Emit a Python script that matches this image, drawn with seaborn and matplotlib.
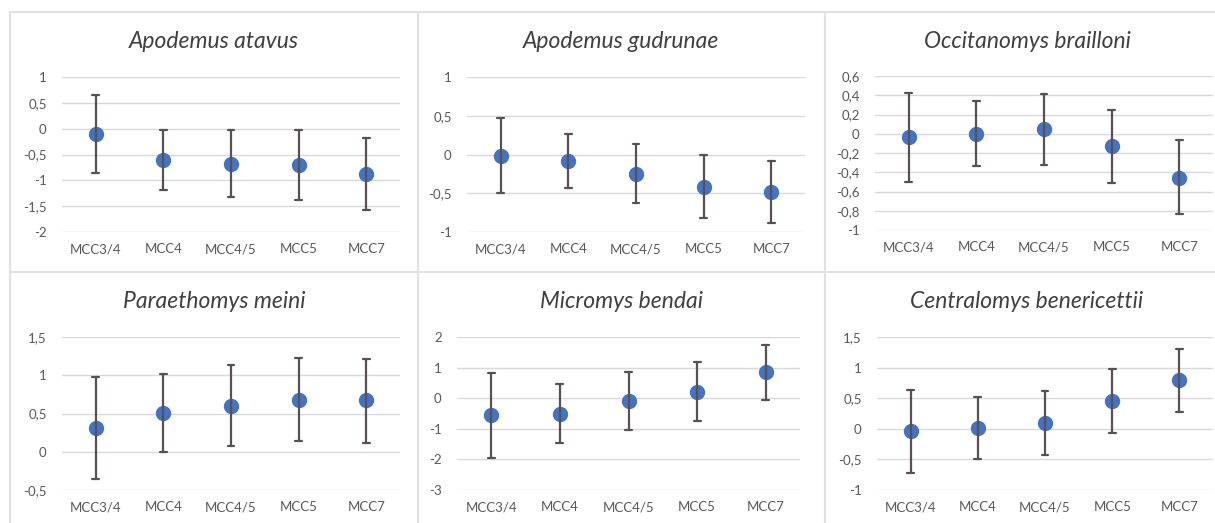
import numpy as np
import pandas as pd
import matplotlib
matplotlib.use("Agg")
import matplotlib.pyplot as plt
from matplotlib.lines import Line2D
import seaborn as sns

categories = ["MCC3/4", "MCC4", "MCC4/5", "MCC5", "MCC7"]

titles = ["Apodemus atavus", "Apodemus gudrunae", "Occitanomys brailloni",
          "Paraethomys meini", "Micromys bendai", "Centralomys benericettii"]

atavus_mean = [-0.10, -0.60, -0.68, -0.70, -0.88]
atavus_low = [-0.85, -1.18, -1.33, -1.38, -1.58]
atavus_high = [0.65, -0.02, -0.02, -0.02, -0.18]

gudrunae_mean = [-0.02, -0.08, -0.25, -0.42, -0.48]
gudrunae_low = [-0.50, -0.43, -0.63, -0.82, -0.88]
gudrunae_high = [0.47, 0.27, 0.14, -0.01, -0.08]

brailloni_mean = [-0.03, 0.00, 0.05, -0.13, -0.46]
brailloni_low = [-0.50, -0.34, -0.32, -0.51, -0.83]
brailloni_high = [0.42, 0.34, 0.41, 0.25, -0.07]

meini_mean = [0.31, 0.51, 0.60, 0.68, 0.67]
meini_low = [-0.36, 0.00, 0.07, 0.14, 0.12]
meini_high = [0.98, 1.01, 1.13, 1.22, 1.21]

bendai_mean = [-0.55, -0.51, -0.09, 0.21, 0.84]
bendai_low = [-1.97, -1.45, -1.05, -0.76, -0.07]
bendai_high = [0.83, 0.45, 0.87, 1.17, 1.73]

benericettii_mean = [-0.04, 0.01, 0.09, 0.46, 0.80]
benericettii_low = [-0.73, -0.49, -0.43, -0.07, 0.28]
benericettii_high = [0.64, 0.52, 0.62, 0.98, 1.30]

y_ticks = [
    [-2, -1.5, -1, -0.5, 0, 0.5, 1],
    [-1, -0.5, 0, 0.5, 1],
    [-1, -0.8, -0.6, -0.4, -0.2, 0, 0.2, 0.4, 0.6],
    [-0.5, 0, 0.5, 1, 1.5],
    [-3, -2, -1, 0, 1, 2],
    [-1, -0.5, 0, 0.5, 1, 1.5],
]

series = [
    (atavus_mean, atavus_low, atavus_high),
    (gudrunae_mean, gudrunae_low, gudrunae_high),
    (brailloni_mean, brailloni_low, brailloni_high),
    (meini_mean, meini_low, meini_high),
    (bendai_mean, bendai_low, bendai_high),
    (benericettii_mean, benericettii_low, benericettii_high),
]

sns.set_theme(style="white")
plt.rcParams["font.family"] = ["Lato", "DejaVu Sans"]

W, H = 1215, 523
fig = plt.figure(figsize=(W / 100, H / 100), dpi=100)
fig.patch.set_facecolor("white")

# axes boxes in pixels: (left, right, top, bottom)
boxes = [
    (62, 400, 77, 232),
    (467, 805, 77, 232),
    (875, 1213, 76, 230),
    (62, 400, 337, 490),
    (457, 800, 337, 490),
    (877, 1213, 337, 490),
]
title_pos = [(214, 42), (621, 42), (1027, 42), (214, 302), (621, 302), (1027, 302)]

blue = "#4472C4"
err_col = "#5b5050"
grid_col = "#d9d9d9"
text_col = "#595959"


def fmt(v):
    s = ("%g" % v).replace(".", ",")
    return s


for i, (box, (mean, low, high)) in enumerate(zip(boxes, series)):
    l, r, t, b = box
    ax = fig.add_axes([l / W, 1 - b / H, (r - l) / W, (b - t) / H])
    rows = []
    for c, m, lo, hi in zip(categories, mean, low, high):
        for v in (lo, m, hi):
            rows.append({"cat": c, "val": v})
    df = pd.DataFrame(rows)
    ticks = y_ticks[i]
    for tv in ticks:
        ax.axhline(tv, color=grid_col, lw=1.0, zorder=0)
    sns.pointplot(data=df, x="cat", y="val", order=categories, ax=ax,
                  estimator="median", errorbar=("pi", 100),
                  linestyle="none", color=blue, markersize=9,
                  capsize=0.1, err_kws={"color": err_col, "linewidth": 1.6},
                  zorder=3)
    ax.set_xlim(-0.5, 4.5)
    ax.set_ylim(ticks[0], ticks[-1])
    ax.set_yticks(ticks)
    ax.set_yticklabels([fmt(v) for v in ticks])
    ax.set_xlabel("")
    ax.set_ylabel("")
    for s in ax.spines.values():
        s.set_visible(False)
    ax.tick_params(axis="both", length=0, labelsize=9.5, colors=text_col)
    ax.tick_params(axis="y", pad=11)
    ax.tick_params(axis="x", pad=8)
    ax.set_facecolor("none")
    tx, ty = title_pos[i]
    fig.text(tx / W, 1 - ty / H, titles[i], ha="center", va="center",
             fontsize=16.5, style="italic", color="#404040")

# panel separators
frame_col = "#e3e0de"
for y in (12, 272):
    fig.add_artist(Line2D([10 / W, 1], [1 - y / H, 1 - y / H], color=frame_col, lw=1.5))
for x in (10, 418, 825):
    fig.add_artist(Line2D([x / W, x / W], [1 - 12 / H, 0], color=frame_col, lw=1.5))

fig.savefig("out.png", dpi=100, facecolor="white")
